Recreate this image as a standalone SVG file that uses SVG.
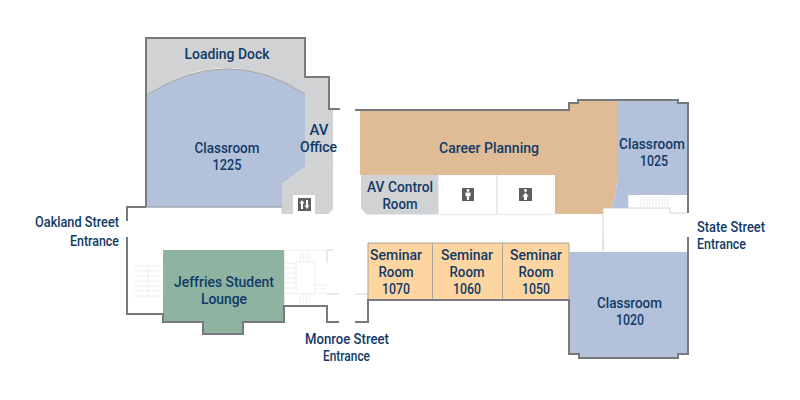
<svg xmlns="http://www.w3.org/2000/svg" width="800" height="400" viewBox="0 0 800 400">
<style>
text{font-family:"Roboto","Liberation Sans",sans-serif;font-size:15px;font-weight:500;fill:#113a68;text-anchor:middle}
.w{fill:none;stroke:#77797c;stroke-width:2}
.l{fill:none;stroke:#d4d6d8;stroke-width:1}
.s{fill:none;stroke:#eeeeee;stroke-width:1}
.blue{fill:#b3c2da}.gray{fill:#d0d2d4}.tan{fill:#e0bc96}.pe{fill:#fdd5a0}.green{fill:#8eb3a0}
.d{fill:none;stroke:#a8a49c;stroke-width:1}
.b{fill:none;stroke:#a3a8b0;stroke-width:1.500}
.ic{fill:#5c5e61}.iw{fill:#fff}
</style>
<rect width="800" height="400" fill="#fff"/>
<g id="stairs">
<path class="s" d="M134 266H162M134 271H162M134 276H162M134 281H162M134 286H162M134 291H162M134 296H162M148 266V296"/>
<path class="s" d="M285 263H296M285 268H296M285 273H296M285 278H296M285 283H296M285 288H296M285 293H296M296 262H315V294H296ZM300 251V262M303 251V262M306 251V262M309 251V262M300 295V306M303 295V306M306 295V306M309 295V306M315 285H327M315 289H327M315 293H327M285 250H327"/>
<path class="s" d="M641 197V207M644 197V207M647 197V207M650 197V207M653 197V207M656 197V207M659 197V207M662 197V207M665 197V207M668 197V207"/>
</g>
<g id="connectors">
<path class="l" d="M328 250H334M327 250V263M327 294H339M355 294H369M603 208V250M603 238V251M603 208H670V213H687M628 195V208M366 214H555M282 207V214M284 250V306"/>
</g>
<g id="loading-dock"><path class="gray" d="M146 38H305V96Q227 40 146 96Z"/><text x="227" y="59" textLength="85" lengthAdjust="spacingAndGlyphs">Loading Dock</text></g>
<g id="classroom-1225"><path class="blue" d="M147 95Q227 43 305 94V167L282 184V207H147Z"/><path class="d" d="M147 95Q227 43 305 94"/><path class="b" d="M146 207H282"/><text x="227" y="152.500" textLength="65" lengthAdjust="spacingAndGlyphs">Classroom</text><text x="227" y="169.500" textLength="29" lengthAdjust="spacingAndGlyphs">1225</text></g>
<g id="av-office"><path class="gray" d="M305 77H329V109H333V209L328 214H282V184L305 167Z"/><path class="l" d="M305 120H333M305 167H333"/><text x="319" y="134.500" textLength="19" lengthAdjust="spacingAndGlyphs">AV</text><text x="318.500" y="151.500" textLength="37" lengthAdjust="spacingAndGlyphs">Office</text></g>
<g id="elevator"><rect class="iw" x="293" y="195" width="22" height="19"/><rect class="ic" x="298" y="198" width="13" height="13"/><path class="iw" d="M302 200L304.500 203.500H303V209H301V203.500H299.500ZM307 209L304.500 205.500H306V200H308V205.500H309.500Z"/></g>
<g id="career-planning"><path class="tan" d="M360 111H569V104H578V101H617V180Q616 195 612 208H603V214H555V175H360Z"/><text x="489" y="153" textLength="100" lengthAdjust="spacingAndGlyphs">Career Planning</text></g>
<g id="av-control-room"><path class="gray" d="M361 175H438V214H366L361 208Z"/><text x="400" y="192" textLength="66" lengthAdjust="spacingAndGlyphs">AV Control</text><text x="400" y="209" textLength="35" lengthAdjust="spacingAndGlyphs">Room</text></g>
<g id="restrooms"><rect class="iw" x="438" y="175" width="117" height="39"/><path class="l" d="M438 175V214M497 175V214"/><rect class="ic" x="462" y="188" width="12" height="13"/><rect class="ic" x="519" y="188" width="13" height="13"/><circle class="iw" cx="468" cy="190.500" r="1.400"/><path class="iw" d="M465.500 192.500h5v3.500h-1.200l-.3 4h-2l-.3-4h-1.200Z"/><circle class="iw" cx="525.500" cy="190.500" r="1.400"/><path class="iw" d="M525.500 192.500l3.200 4h-1.700v3.500h-3v-3.500h-1.700Z"/></g>
<g id="classroom-1025"><path class="blue" d="M617 101H678V103H687V195H628V208H612Q616 195 617 180Z"/><text x="652" y="149" textLength="66" lengthAdjust="spacingAndGlyphs">Classroom</text><text x="654" y="166" textLength="28" lengthAdjust="spacingAndGlyphs">1025</text></g>
<g id="seminar-1070"><rect class="pe" x="368" y="243" width="65" height="57"/><text x="396" y="259.500" textLength="52" lengthAdjust="spacingAndGlyphs">Seminar</text><text x="396" y="276.500" textLength="35" lengthAdjust="spacingAndGlyphs">Room</text><text x="396" y="293.500" textLength="28" lengthAdjust="spacingAndGlyphs">1070</text></g>
<g id="seminar-1060"><rect class="pe" x="432" y="243" width="71" height="57"/><text x="467" y="259.500" textLength="52" lengthAdjust="spacingAndGlyphs">Seminar</text><text x="467" y="276.500" textLength="35" lengthAdjust="spacingAndGlyphs">Room</text><text x="467" y="293.500" textLength="28" lengthAdjust="spacingAndGlyphs">1060</text></g>
<g id="seminar-1050"><rect class="pe" x="502" y="243" width="67" height="57"/><text x="536" y="259.500" textLength="52" lengthAdjust="spacingAndGlyphs">Seminar</text><text x="536" y="276.500" textLength="35" lengthAdjust="spacingAndGlyphs">Room</text><text x="536" y="293.500" textLength="28" lengthAdjust="spacingAndGlyphs">1050</text></g>
<path class="d" d="M368 243H569V300M432.500 243V300M502.500 243V300M368 243V300"/>
<g id="classroom-1020"><path class="blue" d="M569 252H688V354H678V358H579V354H569Z"/><text x="629.500" y="308" textLength="65" lengthAdjust="spacingAndGlyphs">Classroom</text><text x="630" y="325" textLength="28" lengthAdjust="spacingAndGlyphs">1020</text></g>
<g id="jeffries-student-lounge"><path class="green" d="M163 250H284V322H243V334H203V322H163Z"/><text x="224" y="287" textLength="100" lengthAdjust="spacingAndGlyphs">Jeffries Student</text><text x="224" y="304" textLength="46" lengthAdjust="spacingAndGlyphs">Lounge</text></g>
<g id="walls">
<path class="w" d="M146 207V38H305V77H329V109H340M355 110H569V103H578V100H678V103H688V213M688 237V354H678V358H579V354H569V300H368V322H355M339 322H327V306H284V322H243V334H203V322H163V314H127V237M127 221V207H146"/>
</g>
<g id="labels">
<text x="77" y="227" textLength="84" lengthAdjust="spacingAndGlyphs">Oakland Street</text><text x="94.500" y="246" textLength="49" lengthAdjust="spacingAndGlyphs">Entrance</text>
<text x="347" y="344" textLength="84" lengthAdjust="spacingAndGlyphs">Monroe Street</text><text x="346.500" y="361" textLength="47" lengthAdjust="spacingAndGlyphs">Entrance</text>
<text x="731" y="231.500" textLength="68" lengthAdjust="spacingAndGlyphs">State Street</text><text x="721.500" y="248.500" textLength="49" lengthAdjust="spacingAndGlyphs">Entrance</text>
</g>
</svg>
